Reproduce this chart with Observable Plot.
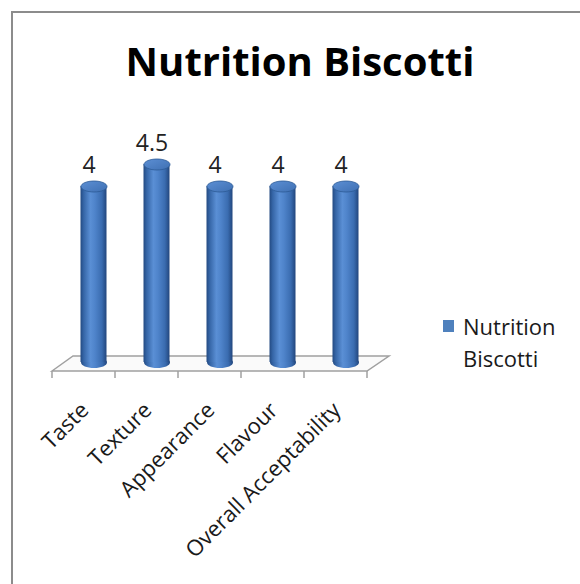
<!DOCTYPE html>
<html>
<head>
<meta charset="utf-8">
<script src="https://cdn.jsdelivr.net/npm/d3@7"></script>
<script src="https://cdn.jsdelivr.net/npm/@observablehq/plot@0.6"></script>
<style>
  html, body { margin: 0; padding: 0; background: #fff; }
  #wrap { position: relative; width: 580px; height: 584px; overflow: hidden; background: #fff; font-family: "Open Sans", "DejaVu Sans", sans-serif; }
  #frame { position: absolute; left: 11px; top: 11px; width: 700px; height: 700px; border-left: 2px solid #8c8c8c; border-top: 2px solid #8c8c8c; box-sizing: border-box; }
  #title { position: absolute; left: 13px; width: 574px; top: 41px; text-align: center; font-size: 40px; line-height: 40px; font-weight: 700; color: #000; }
  #plot { position: absolute; left: 0; top: 0; }
  #legend-swatch { position: absolute; left: 443px; top: 320px; width: 11px; height: 12px; background: #4f81bd; }
  #legend-text { position: absolute; left: 463px; top: 310px; font-size: 22px; line-height: 32px; color: #1a1a1a; }
</style>
</head>
<body>
<div id="wrap">
  <div id="frame"></div>
  <div id="title"></div>
  <div id="plot"></div>
  <div id="legend-swatch"></div>
  <div id="legend-text"></div>
</div>
<script>
// ---- data ----
const chartTitle = "Nutrition Biscotti";
const seriesName = "Nutrition Biscotti";
const categories = ["Taste", "Texture", "Appearance", "Flavour", "Overall Acceptability"];
const values = [4, 4.5, 4, 4, 4];
const valueLabels = ["4", "4.5", "4", "4", "4"];

const rows = categories.map((c, i) => ({cat: c, value: values[i], label: valueLabels[i]}));

document.getElementById("title").textContent = chartTitle;
document.getElementById("legend-text").innerHTML = seriesName.split(" ").join("<br>");

// ellipse symbol for cylinder caps
const RX = 13, RY = 5.5, K = 0.5523;
const ellipse = {
  draw(ctx) {
    ctx.moveTo(RX, 0);
    ctx.bezierCurveTo(RX, RY * K, RX * K, RY, 0, RY);
    ctx.bezierCurveTo(-RX * K, RY, -RX, RY * K, -RX, 0);
    ctx.bezierCurveTo(-RX, -RY * K, -RX * K, -RY, 0, -RY);
    ctx.bezierCurveTo(RX * K, -RY, RX, -RY * K, RX, 0);
    ctx.closePath();
  }
};

const DEPTH_DX = 10;

function defsMark() {
  const defs = d3.create("svg:defs");
  const g = defs.append("linearGradient").attr("id", "cylBody").attr("x1", "0").attr("x2", "1").attr("y1", "0").attr("y2", "0");
  [["0%", "#234a82"], ["12%", "#3565a6"], ["38%", "#5a8fd5"], ["55%", "#4f84cb"], ["82%", "#3a6cb0"], ["100%", "#22467d"]]
    .forEach(([o, c]) => g.append("stop").attr("offset", o).attr("stop-color", c));
  const t = defs.append("linearGradient").attr("id", "cylTop").attr("x1", "0").attr("x2", "1").attr("y1", "0").attr("y2", "1");
  [["0%", "#5c8fd4"], ["100%", "#3f70b3"]]
    .forEach(([o, c]) => t.append("stop").attr("offset", o).attr("stop-color", c));
  return defs.node();
}

function floorMark(index, scales) {
  const [x0, x1] = scales.x.range();
  const y0 = scales.y(0);
  const front = y0 + 9, back = y0 - 6, shift = 21;
  const g = d3.create("svg:g");
  g.append("path")
    .attr("d", `M${x0},${front}L${x0 + shift},${back}L${x1 + shift + 1},${back}L${x1},${front}Z`)
    .attr("fill", "#fafafa").attr("stroke", "#a0a0a0").attr("stroke-width", 1.5);
  const step = scales.x.step();
  const n = scales.x.domain().length;
  for (let i = 0; i <= n; i++) {
    const xx = x0 + i * step;
    g.append("line").attr("x1", xx).attr("x2", xx).attr("y1", front).attr("y2", front + 7)
      .attr("stroke", "#a0a0a0").attr("stroke-width", 1.5);
  }
  return g.node();
}

const chart = Plot.plot({
  width: 580,
  height: 584,
  marginLeft: 52,
  marginRight: 213,
  marginTop: 142,
  marginBottom: 222,
  style: {background: "transparent", fontFamily: "'Open Sans', sans-serif", overflow: "visible"},
  x: {type: "band", domain: categories, padding: 0, axis: null},
  y: {domain: [0, 5], axis: null},
  marks: [
    defsMark,
    floorMark,
    Plot.dot(rows, {x: "cat", y: () => 0, symbol: ellipse, fill: "url(#cylBody)", dx: DEPTH_DX}),
    Plot.barY(rows, {x: "cat", y: "value", fill: "url(#cylBody)", insetLeft: 18.5, insetRight: 18.5, dx: DEPTH_DX}),
    Plot.dot(rows, {x: "cat", y: "value", symbol: ellipse, fill: "url(#cylTop)", stroke: "#2c5a96", strokeWidth: 0.8, dx: DEPTH_DX}),
    Plot.text(rows, {x: "cat", y: "value", text: "label", dx: DEPTH_DX - 5, dy: -21, fontSize: 23, fill: "#222"}),
    Plot.text(categories, {x: d => d, frameAnchor: "bottom", text: d => d, rotate: -45, textAnchor: "end", lineAnchor: "top", dx: -5, dy: 38, fontSize: 22, fill: "#1a1a1a"})
  ]
});
document.getElementById("plot").appendChild(chart);
</script>
</body>
</html>
